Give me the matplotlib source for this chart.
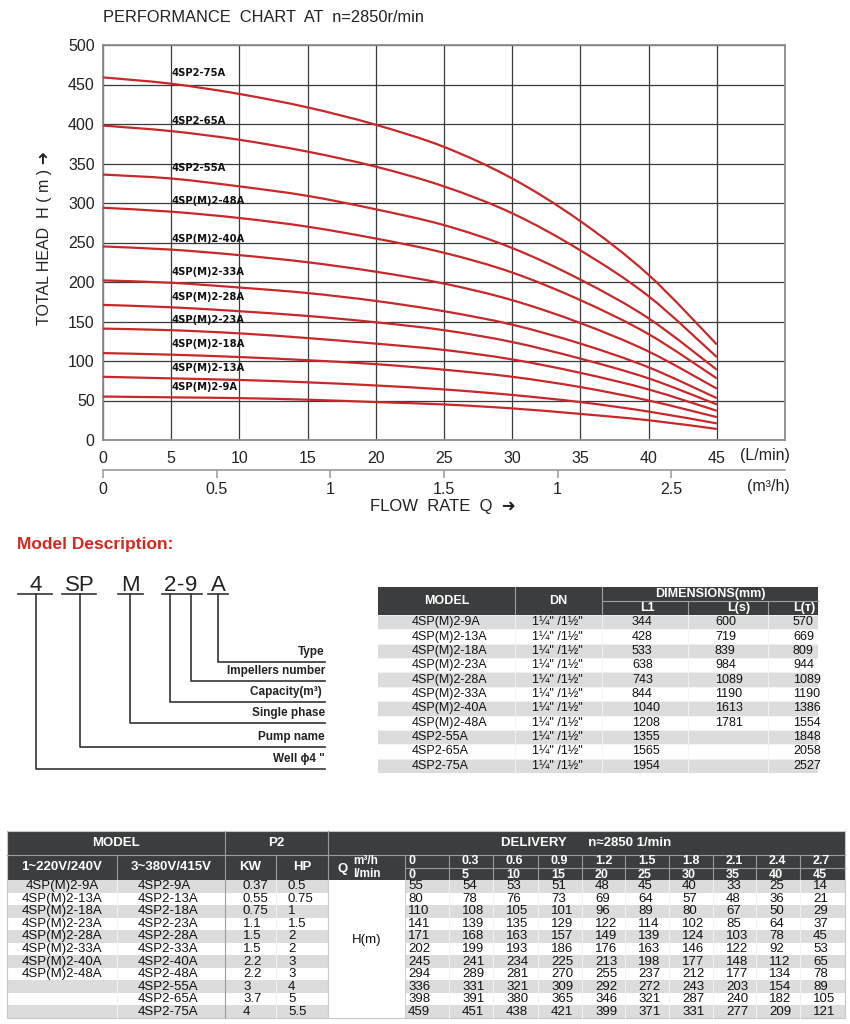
import matplotlib
matplotlib.use("Agg")
import matplotlib.pyplot as plt
from matplotlib.patches import Rectangle, PathPatch
from matplotlib.path import Path

plt.rcParams['font.family'] = ['Liberation Sans', 'DejaVu Sans']

# ---- data ----
q_m3h = [0, 0.3, 0.6, 0.9, 1.2, 1.5, 1.8, 2.1, 2.4, 2.7]
q_lmin = [0, 5, 10, 15, 20, 25, 30, 35, 40, 45]
heads = [
    [55, 54, 53, 51, 48, 45, 40, 33, 25, 14],
    [80, 78, 76, 73, 69, 64, 57, 48, 36, 21],
    [110, 108, 105, 101, 96, 89, 80, 67, 50, 29],
    [141, 139, 135, 129, 122, 114, 102, 85, 64, 37],
    [171, 168, 163, 157, 149, 139, 124, 103, 78, 45],
    [202, 199, 193, 186, 176, 163, 146, 122, 92, 53],
    [245, 241, 234, 225, 213, 198, 177, 148, 112, 65],
    [294, 289, 281, 270, 255, 237, 212, 177, 134, 78],
    [336, 331, 321, 309, 292, 272, 243, 203, 154, 89],
    [398, 391, 380, 365, 346, 321, 287, 240, 182, 105],
    [459, 451, 438, 421, 399, 371, 331, 277, 209, 121],
]
models = ["4SP(M)2-9A", "4SP(M)2-13A", "4SP(M)2-18A", "4SP(M)2-23A",
          "4SP(M)2-28A", "4SP(M)2-33A", "4SP(M)2-40A", "4SP(M)2-48A",
          "4SP2-55A", "4SP2-65A", "4SP2-75A"]
models_1ph = models[:8] + ["", "", ""]
models_3ph = ["4SP2-9A", "4SP2-13A", "4SP2-18A", "4SP2-23A", "4SP2-28A",
              "4SP2-33A", "4SP2-40A", "4SP2-48A", "4SP2-55A", "4SP2-65A",
              "4SP2-75A"]
kw = ["0.37", "0.55", "0.75", "1.1", "1.5", "1.5", "2.2", "2.2", "3", "3.7", "4"]
hp = ["0.5", "0.75", "1", "1.5", "2", "2", "3", "3", "4", "5", "5.5"]
dn = ['1\u00bc" /1\u00bd"'] * 11
l1 = [344, 428, 533, 638, 743, 844, 1040, 1208, 1355, 1565, 1954]
l_s = [600, 719, 839, 984, 1089, 1190, 1613, 1781, None, None, None]
l_t = [570, 669, 809, 944, 1089, 1190, 1386, 1554, 1848, 2058, 2527]
x_ticks = [0, 5, 10, 15, 20, 25, 30, 35, 40, 45]
y_ticks = [0, 50, 100, 150, 200, 250, 300, 350, 400, 450, 500]
m3h_ticks = [0, 0.5, 1, 1.5, 2, 2.5]
m3h_labels = ["0", "0.5", "1", "1.5", "1", "2.5"]
code_parts = ["4", "SP", "M", "2", "-", "9", "A"]
code_notes = ["Type", "Impellers number", "Capacity(m\u00b3) ", "Single phase",
              "Pump name", "Well \u03d54 \""]

W, H = 850, 1024
red = "#c8282a"
dark = "#3b3d3f"
stripe = "#dcdcdc"


def smooth_path(xs, ys):
    # cubic bezier through the table points (Catmull-Rom style)
    n = len(xs)
    verts = [(xs[0], ys[0])]
    codes = [Path.MOVETO]
    for i in range(n - 1):
        a, b = max(i - 1, 0), min(i + 2, n - 1)
        c1 = (xs[i] + (xs[i + 1] - xs[a]) / 6, ys[i] + (ys[i + 1] - ys[a]) / 6)
        c2 = (xs[i + 1] - (xs[b] - xs[i]) / 6, ys[i + 1] - (ys[b] - ys[i]) / 6)
        verts += [c1, c2, (xs[i + 1], ys[i + 1])]
        codes += [Path.CURVE4] * 3
    return Path(verts, codes)


fig = plt.figure(figsize=(8.5, 10.24), dpi=100)

# ---- performance chart ----
ax = fig.add_axes([103 / W, 1 - 440 / H, 682 / W, 395 / H])
for row, name in zip(heads, models):
    ax.add_patch(PathPatch(smooth_path(q_lmin, row), facecolor="none",
                           edgecolor=red, lw=1.6, zorder=3))
    ax.annotate(name, xy=(q_lmin[1], row[1]), xytext=(0, 7.5),
                textcoords="offset points", ha="left", va="center",
                fontsize=7.2, fontweight="bold", color="#111", zorder=4,
                family=["DejaVu Sans"])
ax.set_xlim(0, 50)
ax.set_ylim(0, 500)
ax.set_xticks(x_ticks + [50])
ax.set_xticklabels([str(v) for v in x_ticks] + [""])
ax.set_yticks(y_ticks)
ax.tick_params(length=0, labelsize=11.5, colors="#222")
ax.tick_params(axis="x", pad=8)
ax.tick_params(axis="y", pad=6)
ax.grid(True, color="#3a3a3a", lw=0.9)
for s in ax.spines.values():
    s.set_color("#8c8c8c")
    s.set_linewidth(1.3)
ax.text(1.007, -0.038, "(L/min)", transform=ax.transAxes, ha="right",
        va="center", fontsize=11.5, color="#222")

# m3/h axis
ax2 = fig.add_axes([103 / W, 1 - 470 / H, 682 / W, 0.0001])
ax2.set_xlim(0, 50)
ax2.set_xticks([v / 0.06 for v in m3h_ticks])
ax2.set_xticklabels(m3h_labels)
ax2.set_yticks([])
for k in ["top", "left", "right"]:
    ax2.spines[k].set_visible(False)
ax2.spines["bottom"].set_color("#9a9a9a")
ax2.spines["bottom"].set_linewidth(1.2)
ax2.tick_params(axis="x", direction="out", length=6, width=1.1, color="#9a9a9a",
                labelsize=11.5, labelcolor="#222", pad=3)

fig.text(790 / W, 1 - 486 / H, "(m\u00b3/h)", ha="right", va="center",
         fontsize=11.5, color="#222")
fig.text(103 / W, 1 - 18 / H, "PERFORMANCE  CHART  AT  n=2850r/min", ha="left",
         va="center", fontsize=11.8, color="#222")
fig.text(45 / W, 1 - 238 / H, "TOTAL HEAD  H ( m ) \u279c", rotation=90,
         ha="center", va="center", fontsize=11.5, color="#222")
fig.text(370 / W, 1 - 507 / H, "FLOW  RATE  Q  \u279c", ha="left", va="center",
         fontsize=12, color="#222")

# ---- overlay in pixel coordinates ----
ov = fig.add_axes([0, 0, 1, 1])
ov.set_xlim(0, W)
ov.set_ylim(H, 0)
ov.axis("off")


def box(x0, y0, x1, y1, fc, ec="none", lw=0):
    ov.add_patch(Rectangle((x0, y0), x1 - x0, y1 - y0, facecolor=fc,
                           edgecolor=ec, linewidth=lw))


def txt(x, y, s, ha="center", size=9, color="#111", weight="normal"):
    ov.text(x, y, s, ha=ha, va="center", fontsize=size, color=color,
            fontweight=weight)


# model description
ov.text(17, 545, "Model Description:", ha="left", va="center", fontsize=12.5,
        fontweight="bold", color="#d7261e")
part_x = [36, 80, 130, 170, 181, 191, 218]
under = [(18, 52), (62, 96), (118, 143), (162, 202), None, None, (208, 228)]
for s, x, u in zip(code_parts, part_x, under):
    ov.text(x, 591, s, ha="center", va="baseline", fontsize=16, color="#222")
    if u:
        ov.plot(u, [594, 594], color="#333", lw=1.2)
drop_x = [218, 191, 170, 130, 80, 36]
drop_y = [662, 681, 702, 723, 747, 769]
for x, y, note in zip(drop_x, drop_y, code_notes):
    ov.plot([x, x, 325], [594, y, y], color="#333", lw=1.2)
    txt(325, y - 10, note, ha="right", size=8.5, color="#222", weight="bold")

# dimensions table
cx = [378, 515, 602, 688, 768, 818]
box(378, 587, 818, 615, dark)
txt((cx[0] + cx[1]) / 2, 601, "MODEL", color="white", weight="bold", size=9)
txt((cx[1] + cx[2]) / 2, 601, "DN", color="white", weight="bold", size=9)
txt((cx[2] + cx[5]) / 2, 594, "DIMENSIONS(mm)", color="white", weight="bold", size=9)
ov.plot([cx[1], cx[1]], [587, 615], color="#a0a0a0", lw=0.8)
ov.plot([cx[2], cx[2]], [587, 615], color="#a0a0a0", lw=0.8)
ov.plot([cx[2], cx[5]], [601, 601], color="#a0a0a0", lw=0.8)
for x in cx[3:5]:
    ov.plot([x, x], [601, 615], color="#a0a0a0", lw=0.8)
for x, s in zip([640, 727, 793], ["L1", "L(s)", "L(\u0442)"]):
    txt(x, 608, s, ha="left", color="white", weight="bold", size=9)
rh = (773 - 615) / 11
for i in range(11):
    y0 = 615 + i * rh
    box(378, y0, 818, y0 + rh, stripe if i % 2 == 0 else "white")
    yc = y0 + rh / 2
    txt(412, yc, models[i], ha="left", size=9)
    txt(532, yc, dn[i], ha="left", size=9)
    txt(632, yc, str(l1[i]), ha="left", size=9)
    if l_s[i] is not None:
        txt(715, yc, str(l_s[i]), ha="left", size=9)
    txt(793, yc, str(l_t[i]), ha="left", size=9)
    ov.plot([378, 818], [y0, y0], color="#f4f4f4", lw=0.6)
for x in cx[1:5]:
    ov.plot([x, x], [615, 773], color="#f4f4f4", lw=0.6)

# delivery table
ex = [7, 117, 225, 276, 328, 405, 449, 493, 538, 582, 625, 669, 713, 756, 800, 845]
box(7, 831, 845, 880, dark)
txt((ex[0] + ex[2]) / 2, 843, "MODEL", color="white", weight="bold", size=9.5)
txt((ex[2] + ex[4]) / 2, 843, "P2", color="white", weight="bold", size=9.5)
txt((ex[4] + ex[-1]) / 2, 843, "DELIVERY      n\u22482850 1/min", color="white",
    weight="bold", size=9.5)
sep = "#9c9c9c"
for x in [ex[2], ex[4]]:
    ov.plot([x, x], [831, 1018], color=sep, lw=0.8)
ov.plot([7, 845], [855, 855], color=sep, lw=0.8)
for x in [ex[1], ex[3]]:
    ov.plot([x, x], [855, 880], color=sep, lw=0.8)
for x in ex[5:-1]:
    ov.plot([x, x], [855, 880], color=sep, lw=0.8)
ov.plot([ex[5], ex[-1]], [868, 868], color=sep, lw=0.8)
txt((ex[0] + ex[1]) / 2, 867.5, "1~220V/240V", color="white", weight="bold", size=9.5)
txt((ex[1] + ex[2]) / 2, 867.5, "3~380V/415V", color="white", weight="bold", size=9.5)
txt((ex[2] + ex[3]) / 2, 867.5, "KW", color="white", weight="bold", size=9.5)
txt((ex[3] + ex[4]) / 2, 867.5, "HP", color="white", weight="bold", size=9.5)
txt(343, 869, "Q", color="white", weight="bold", size=9.5)
txt(353, 861, "m\u00b3/h", ha="left", color="white", weight="bold", size=8.5)
txt(353, 874, "l/min", ha="left", color="white", weight="bold", size=8.5)
for j in range(10):
    xl = ex[5 + j] + (4 if j == 0 else 13)
    txt(xl, 861.5, "{:g}".format(q_m3h[j]), ha="left", color="white",
        weight="bold", size=9)
    txt(xl, 874.5, str(q_lmin[j]), ha="left", color="white", weight="bold", size=9)

rh2 = (1018 - 880) / 11
for i in range(11):
    y0 = 880 + i * rh2
    fc = stripe if i % 2 == 0 else "white"
    box(ex[0], y0, ex[4], y0 + rh2, fc)
    box(ex[5], y0, ex[-1], y0 + rh2, fc)
    yc = y0 + rh2 / 2
    txt((ex[0] + ex[1]) / 2, yc, models_1ph[i], size=9.5)
    txt(138, yc, models_3ph[i], ha="left", size=9.5)
    txt(243, yc, kw[i], ha="left", size=9.5)
    txt(288, yc, hp[i], ha="left", size=9.5)
    for j in range(10):
        xl = ex[5 + j] + (3 if j == 0 else 13)
        txt(xl, yc, str(heads[i][j]), ha="left", size=9.5)
for x in [ex[1], ex[3]] + ex[5:-1]:
    ov.plot([x, x], [880, 1018], color="#f2f2f2", lw=0.7)
ov.plot([ex[4], ex[4]], [880, 1018], color="#d0d0d0", lw=0.7)
ov.plot([ex[5], ex[5]], [880, 1018], color="#d0d0d0", lw=0.7)
txt((ex[4] + ex[5]) / 2, 940, "H(m)", size=9.5)
ov.add_patch(Rectangle((7, 831), 838, 187, facecolor="none",
                       edgecolor="#c8c8c8", linewidth=0.8))

fig.savefig("out.png", dpi=100)
